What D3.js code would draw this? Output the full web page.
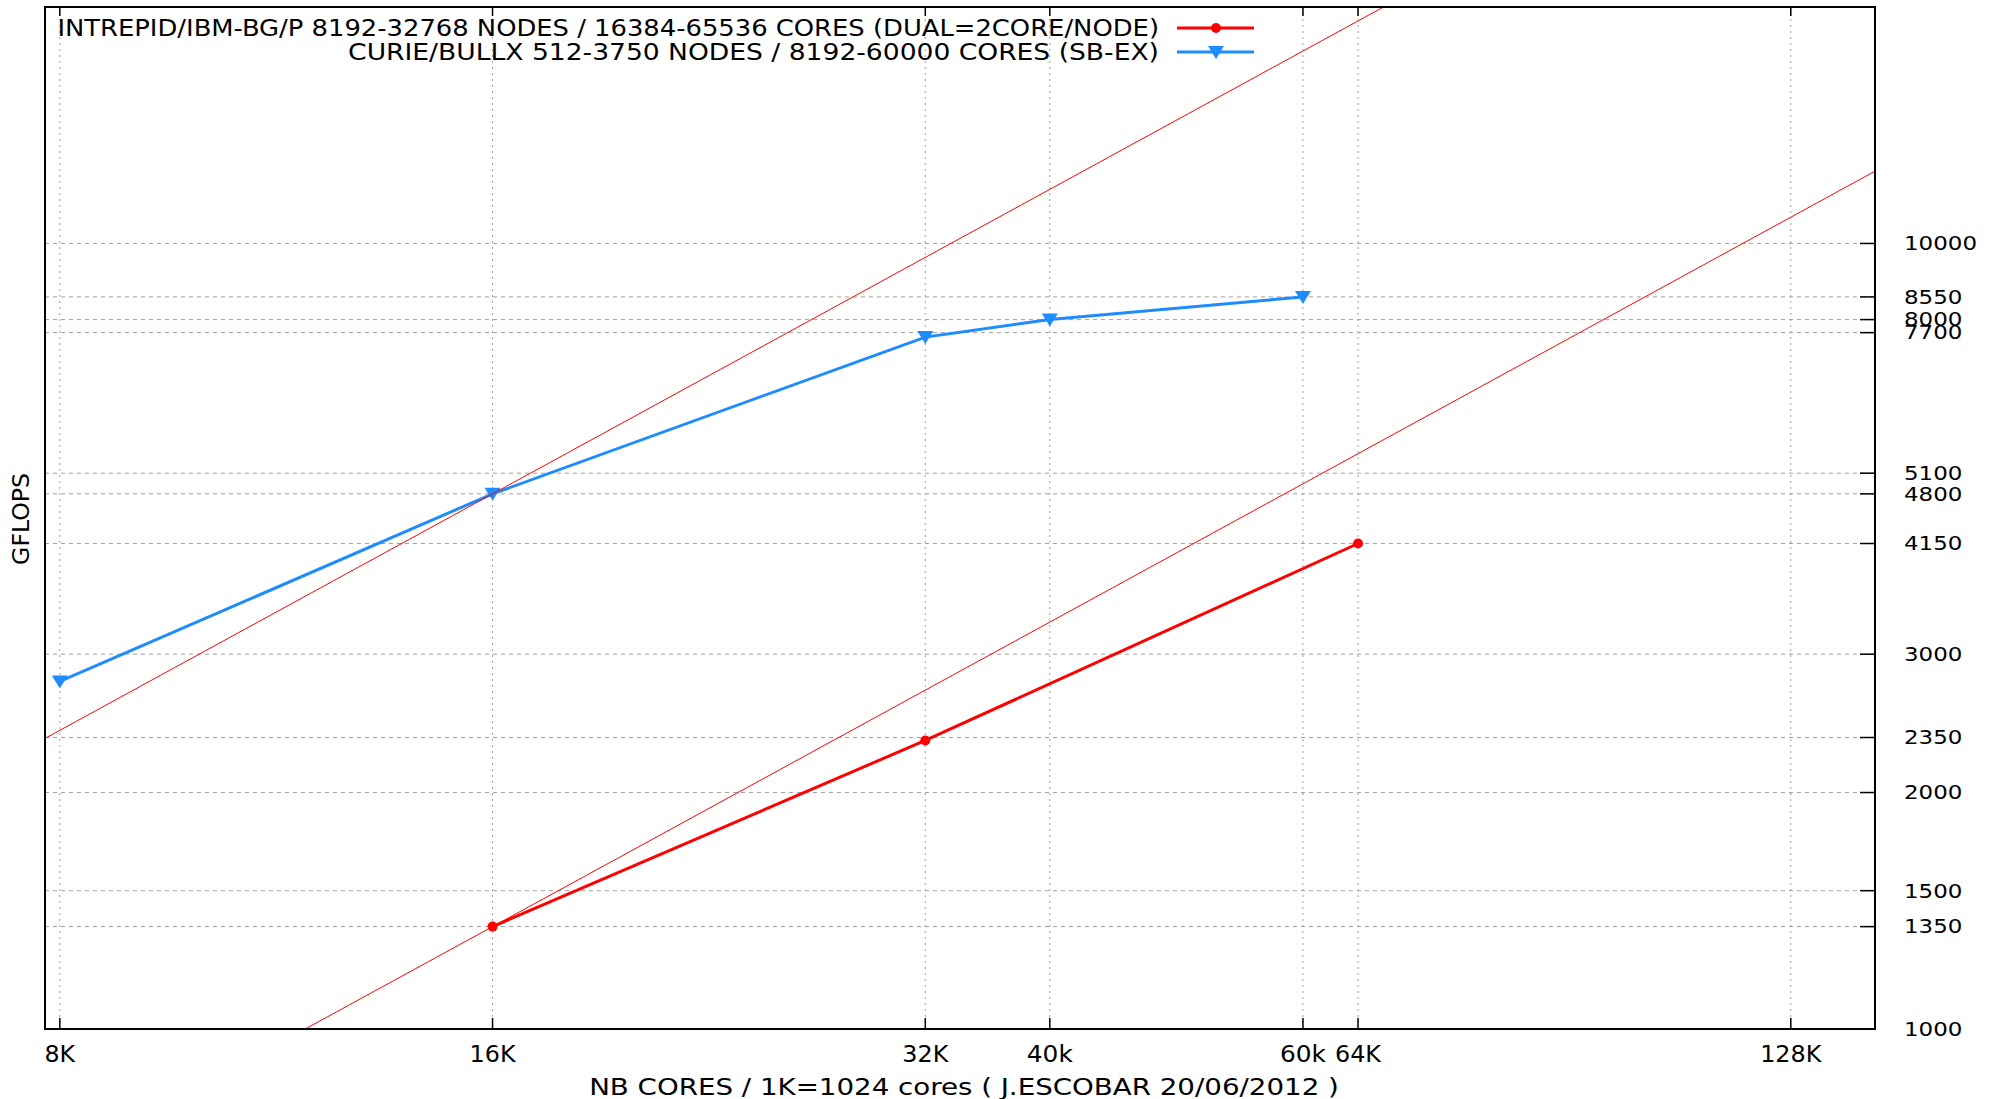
<!DOCTYPE html>
<html>
<head>
<meta charset="utf-8">
<script src="https://cdn.jsdelivr.net/npm/d3@7"></script>
<style>
  body { margin: 0; background: #fff; }
  .grid-h { stroke: #a0a0a0; stroke-width: 1; stroke-dasharray: 4,4; }
  .grid-v { stroke: #a0a0a0; stroke-width: 1; stroke-dasharray: 2,4; }
  .mono { font-family: 'Liberation Sans Narrow', 'DejaVu Sans Condensed', 'DejaVu Sans', sans-serif; font-size: 23px; fill: #000; }
  .ylab { font-family: 'DejaVu Sans', sans-serif; font-size: 19px; fill: #000; }
</style>
</head>
<body>
<svg id="chart"></svg>
<script>
// series data (cores, GFLOPS)
const seriesNames = [
  'INTREPID/IBM-BG/P 8192-32768 NODES / 16384-65536 CORES (DUAL=2CORE/NODE)',
  'CURIE/BULLX 512-3750 NODES / 8192-60000 CORES (SB-EX)'
];
const seriesColors = ['#ff0000', '#1e8cff'];
const intrepidCores = [16384, 32768, 65536];
const intrepidGflops = [1350, 2330, 4150];
const curieCores = [8192, 16384, 32768, 40000, 60000];
const curieGflops = [2770, 4800, 7600, 8000, 8550];

// perfect scaling reference lines: GFLOPS at 16K cores
const idealBase = [4800, 1350];
const idealRefCores = 16384;

// ticks
const xTickValues = [8192, 16384, 32768, 40000, 60000, 65536, 131072];
const xTickLabels = ['8K', '16K', '32K', '40k', '60k', '64K', '128K'];
const yTickValues = [1000, 1350, 1500, 2000, 2350, 3000, 4150, 4800, 5100, 7700, 8000, 8550, 10000];

const xTitle = 'NB CORES / 1K=1024 cores ( J.ESCOBAR 20/06/2012 )';
const yTitle = 'GFLOPS';

class ScalingChart {

  constructor(_config) {
    this.config = {
      parentElement: _config.parentElement,
      width: 1996,
      height: 1099,
      plot: { left: 45, right: 1875, top: 7, bottom: 1029 },
      charW: 15.3
    };
    this.initVis();
  }

  initVis() {
    let vis = this;
    const p = vis.config.plot;

    vis.svg = d3.select(vis.config.parentElement)
      .attr('width', vis.config.width)
      .attr('height', vis.config.height);

    vis.xScale = d3.scaleLog().base(2)
      .domain([8000, 150000])
      .range([p.left, p.right]);

    vis.yScale = d3.scaleLog()
      .domain([1000, 20000])
      .range([p.bottom, p.top]);

    vis.svg.append('defs').append('clipPath')
      .attr('id', 'clip')
      .append('rect')
      .attr('x', p.left)
      .attr('y', p.top)
      .attr('width', p.right - p.left)
      .attr('height', p.bottom - p.top);

    vis.gridG = vis.svg.append('g');
    vis.dataG = vis.svg.append('g').attr('clip-path', 'url(#clip)');
    vis.axisG = vis.svg.append('g');
    vis.legendG = vis.svg.append('g');

    vis.renderVis();
  }

  monoText(g, str, x, y, anchor) {
    return g.append('text')
      .attr('class', 'mono')
      .attr('x', x)
      .attr('y', y)
      .attr('dy', '0.35em')
      .attr('text-anchor', anchor)
      .attr('textLength', str.length * this.config.charW)
      .attr('lengthAdjust', 'spacingAndGlyphs')
      .text(str);
  }

  renderVis() {
    let vis = this;
    const p = vis.config.plot;
    const x = vis.xScale, y = vis.yScale;

    // grid
    vis.gridG.selectAll('.grid-h')
      .data(yTickValues.filter(d => d > 1000))
      .join('line')
      .attr('class', 'grid-h')
      .attr('x1', p.left).attr('x2', p.right)
      .attr('y1', d => y(d)).attr('y2', d => y(d));

    vis.gridG.selectAll('.grid-v')
      .data(xTickValues)
      .join('line')
      .attr('class', 'grid-v')
      .attr('x1', d => x(d)).attr('x2', d => x(d))
      .attr('y1', p.top).attr('y2', p.bottom);

    // data lines
    const line = d3.line().x(d => x(d[0])).y(d => y(d[1]));
    const series = [
      d3.zip(intrepidCores, intrepidGflops),
      d3.zip(curieCores, curieGflops)
    ];

    series.forEach((s, i) => {
      vis.dataG.append('path')
        .datum(s)
        .attr('fill', 'none')
        .attr('stroke', seriesColors[i])
        .attr('stroke-width', 3)
        .attr('d', line);
    });

    // markers
    vis.dataG.selectAll('.pt-red')
      .data(series[0])
      .join('circle')
      .attr('class', 'pt-red')
      .attr('cx', d => x(d[0]))
      .attr('cy', d => y(d[1]))
      .attr('r', 5)
      .attr('fill', seriesColors[0]);

    const tri = 'M-8,-6L8,-6L0,7Z';
    vis.dataG.selectAll('.pt-blue')
      .data(series[1])
      .join('path')
      .attr('class', 'pt-blue')
      .attr('d', tri)
      .attr('transform', d => `translate(${x(d[0])},${y(d[1])})`)
      .attr('fill', seriesColors[1]);

    // ideal scaling lines
    const dom = x.domain();
    idealBase.forEach(b => {
      vis.dataG.append('path')
        .datum(dom.map(c => [c, b * c / idealRefCores]))
        .attr('fill', 'none')
        .attr('stroke', '#ff0000')
        .attr('stroke-width', 1)
        .attr('d', line);
    });

    // frame
    vis.axisG.append('rect')
      .attr('x', p.left).attr('y', p.top)
      .attr('width', p.right - p.left)
      .attr('height', p.bottom - p.top)
      .attr('fill', 'none')
      .attr('stroke', '#000')
      .attr('stroke-width', 2);

    // x ticks (bottom and mirrored top)
    xTickValues.forEach((v, i) => {
      vis.axisG.append('line')
        .attr('x1', x(v)).attr('x2', x(v))
        .attr('y1', p.bottom).attr('y2', p.bottom - 11)
        .attr('stroke', '#000').attr('stroke-width', 1.5);
      vis.axisG.append('line')
        .attr('x1', x(v)).attr('x2', x(v))
        .attr('y1', p.top).attr('y2', p.top + 9)
        .attr('stroke', '#000').attr('stroke-width', 1.5);
      vis.monoText(vis.axisG, xTickLabels[i], x(v), 1054, 'middle');
    });

    // y ticks on the right
    yTickValues.forEach(v => {
      vis.axisG.append('line')
        .attr('x1', p.right - 15).attr('x2', p.right)
        .attr('y1', y(v)).attr('y2', y(v))
        .attr('stroke', '#000').attr('stroke-width', 1.5);
      const s = String(v);
      vis.axisG.append('text')
        .attr('class', 'ylab')
        .attr('x', 1904)
        .attr('y', y(v))
        .attr('dy', '0.36em')
        .attr('textLength', s.length * 14.6)
        .attr('lengthAdjust', 'spacingAndGlyphs')
        .text(s);
    });

    // axis titles
    vis.monoText(vis.axisG, xTitle, 964, 1087, 'middle');
    vis.monoText(vis.axisG, yTitle, 0, 0, 'middle')
      .attr('transform', 'translate(21,519) rotate(-90)');

    // legend
    const legY = [28, 52];
    seriesNames.forEach((name, i) => {
      vis.monoText(vis.legendG, name, 1159, legY[i], 'end');
      vis.legendG.append('line')
        .attr('x1', 1177).attr('x2', 1254)
        .attr('y1', legY[i]).attr('y2', legY[i])
        .attr('stroke', seriesColors[i])
        .attr('stroke-width', 3);
    });
    vis.legendG.append('circle')
      .attr('cx', 1216).attr('cy', legY[0]).attr('r', 5)
      .attr('fill', seriesColors[0]);
    vis.legendG.append('path')
      .attr('d', tri)
      .attr('transform', `translate(1216,${legY[1]})`)
      .attr('fill', seriesColors[1]);
  }
}

new ScalingChart({ parentElement: '#chart' });
</script>
</body>
</html>
